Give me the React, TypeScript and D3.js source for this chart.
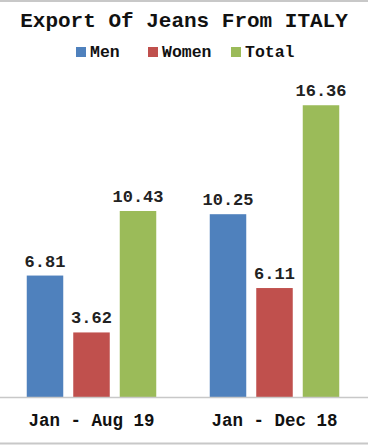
import React from "react";
import * as d3 from "d3";

const periods = ["Jan - Aug 19", "Jan - Dec 18"];
const series = ["Men", "Women", "Total"];
const men = [6.81, 10.25];
const women = [3.62, 6.11];
const total = [10.43, 16.36];
const colors = ["#4F81BD", "#C0504D", "#9BBB59"];

const W = 368;
const H = 445;
const font = "'Liberation Mono', 'Courier New', monospace";

export default function App() {
  const values = [men, women, total];
  const x0 = d3.scaleBand().domain(periods).range([0, 366]);
  const x1 = d3
    .scaleBand()
    .domain(series)
    .range([26.75, 156.25])
    .paddingInner(0.215);
  const y = d3.scaleLinear().domain([0, 18]).range([397, 76]);

  const legendX = [76, 148, 231];

  return (
    <svg
      width={W}
      height={H}
      style={{ position: "absolute", left: 0, top: 0, background: "#fff" }}
      fontFamily={font}
    >
      <line x1={0} x2={W} y1={1} y2={1} stroke="#c8c8c8" strokeWidth={2} />
      <line x1={0} x2={W} y1={443.5} y2={443.5} stroke="#c8c8c8" strokeWidth={2} />

      <text
        x={184}
        y={27}
        textAnchor="middle"
        fontSize={21}
        fontWeight="bold"
        fill="#111"
      >
        Export Of Jeans From ITALY
      </text>

      {series.map((s, i) => (
        <g key={s} transform={`translate(${legendX[i]},47)`}>
          <rect width={10} height={10} fill={colors[i]} />
          <text x={14} y={10} fontSize={16.5} fontWeight="bold" fill="#111">
            {s}
          </text>
        </g>
      ))}

      {periods.map((p, pi) => (
        <g key={p} transform={`translate(${x0(p)},0)`}>
          {series.map((s, si) => {
            const v = values[si][pi];
            const bx = x1(s) as number;
            return (
              <g key={s}>
                <rect
                  x={bx}
                  y={y(v)}
                  width={x1.bandwidth()}
                  height={y(0) - y(v)}
                  fill={colors[si]}
                />
                <text
                  x={bx + x1.bandwidth() / 2}
                  y={y(v) - 9}
                  textAnchor="middle"
                  fontSize={17}
                  fontWeight="bold"
                  fill="#222"
                >
                  {v.toFixed(2)}
                </text>
              </g>
            );
          })}
          <text
            x={x0.bandwidth() / 2}
            y={426}
            textAnchor="middle"
            fontSize={17.5}
            fontWeight="bold"
            fill="#111"
          >
            {p}
          </text>
        </g>
      ))}

      <line x1={0} x2={W} y1={397.5} y2={397.5} stroke="#c8c8c8" strokeWidth={1.5} />
    </svg>
  );
}
